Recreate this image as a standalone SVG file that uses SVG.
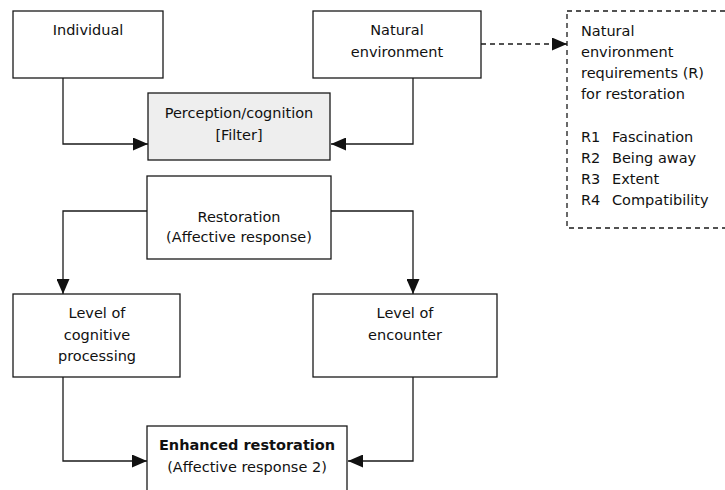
<svg xmlns="http://www.w3.org/2000/svg" width="725" height="490" viewBox="0 0 725 490">
  <style>
    .box { fill: #ffffff; stroke: #1a1a1a; stroke-width: 1.3; }
    .filter { fill: #eeeeee; }
    .dash { fill: none; stroke: #1a1a1a; stroke-width: 1.3; stroke-dasharray: 5 4; }
    .line { fill: none; stroke: #1a1a1a; stroke-width: 1.3; }
    text { font-family: "DejaVu Sans", "Liberation Sans", sans-serif; font-size: 14.5px; fill: #111111; }
    .c { text-anchor: middle; }
    .b { font-weight: bold; }
  </style>
  <defs>
    <marker id="arrow" viewBox="0 0 15 13" refX="15" refY="6.5" markerWidth="15" markerHeight="13" markerUnits="userSpaceOnUse" orient="auto">
      <path d="M0,0 L15,6.5 L0,13 Z" fill="#111111"/>
    </marker>
  </defs>

  <g id="connectors">
    <path class="line" d="M63,78 V144 H148" marker-end="url(#arrow)"/>
    <path class="line" d="M413,78 V144 H331" marker-end="url(#arrow)"/>
    <path class="dash" d="M481,44 H567" marker-end="url(#arrow)"/>
    <path class="line" d="M147,211 H63 V294" marker-end="url(#arrow)"/>
    <path class="line" d="M331,211 H413 V294" marker-end="url(#arrow)"/>
    <path class="line" d="M63,377 V461 H147" marker-end="url(#arrow)"/>
    <path class="line" d="M413,377 V461 H348" marker-end="url(#arrow)"/>
  </g>

  <g id="individual">
    <rect class="box" x="13" y="11" width="150" height="67"/>
    <text class="c" x="88" y="35">Individual</text>
  </g>

  <g id="natural-environment">
    <rect class="box" x="313" y="11" width="168" height="67"/>
    <text class="c" x="397" y="35">Natural</text>
    <text class="c" x="397" y="57">environment</text>
  </g>

  <g id="requirements">
    <rect class="dash" x="567" y="11" width="165" height="217"/>
    <text x="581" y="36">Natural</text>
    <text x="581" y="57">environment</text>
    <text x="581" y="78">requirements (R)</text>
    <text x="581" y="99">for restoration</text>
    <text x="581" y="142">R1<tspan x="612">Fascination</tspan></text>
    <text x="581" y="163">R2<tspan x="612">Being away</tspan></text>
    <text x="581" y="184">R3<tspan x="612">Extent</tspan></text>
    <text x="581" y="205">R4<tspan x="612">Compatibility</tspan></text>
  </g>

  <g id="perception">
    <rect class="box filter" x="148" y="93" width="182" height="67"/>
    <text class="c" x="239" y="118">Perception/cognition</text>
    <text class="c" x="239" y="140">[Filter]</text>
  </g>

  <g id="restoration">
    <rect class="box" x="147" y="176" width="184" height="83"/>
    <text class="c" x="239" y="222">Restoration</text>
    <text class="c" x="239" y="242">(Affective response)</text>
  </g>

  <g id="cognitive-processing">
    <rect class="box" x="13" y="294" width="167" height="83"/>
    <text class="c" x="97" y="318">Level of</text>
    <text class="c" x="97" y="340">cognitive</text>
    <text class="c" x="97" y="361">processing</text>
  </g>

  <g id="encounter">
    <rect class="box" x="313" y="294" width="184" height="83"/>
    <text class="c" x="405" y="318">Level of</text>
    <text class="c" x="405" y="340">encounter</text>
  </g>

  <g id="enhanced-restoration">
    <rect class="box" x="147" y="426" width="200" height="70"/>
    <text class="c b" x="247" y="450">Enhanced restoration</text>
    <text class="c" x="247" y="472">(Affective response 2)</text>
  </g>
</svg>
